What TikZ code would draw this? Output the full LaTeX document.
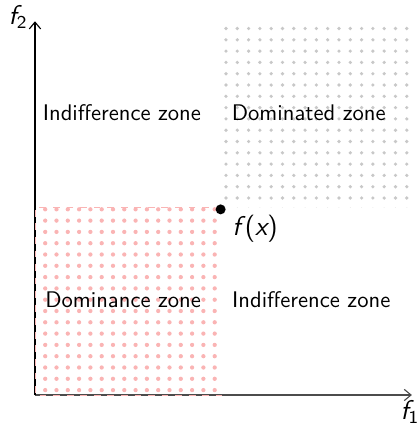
\documentclass[tikz,border=0pt]{standalone}
\usepackage{amsmath}
\usepackage{xcolor}
\usepackage{tikz}
\usetikzlibrary{arrows.meta,patterns.meta}

\definecolor{domcolor}{RGB}{250,180,180}
\definecolor{subcolor}{RGB}{200,200,200}

\newcommand{\sv}[1]{{\slshape #1}}

\tikzset{
  axis/.style={->,>={Straight Barb[length=3pt,width=5pt]},line width=0.5pt},
  zone/.style={font=\sffamily},
  lbl/.style={font=\sffamily\large},
  dominance/.style={pattern={Dots[distance=5pt,radius=0.95pt]},pattern color=domcolor},
  dominated/.style={pattern={Dots[distance=5pt,radius=0.8pt]},pattern color=subcolor},
}

\begin{document}
\begin{tikzpicture}[x=0.972cm,y=0.972cm]
\useasboundingbox (-0.56,-0.464) rectangle (6.11,6.32);
% zones
\fill[dominated] (3,3) rectangle (6,6);
\fill[dominance] (0,0) rectangle (3,3);
%
\coordinate (o) at (0,0);
\coordinate (xend) at (6.03,0);
\coordinate (yend) at (0,5.98);
\draw[axis,black!70] (o) -- (xend);
\draw[axis] (o) -- (yend);
\draw[domcolor,dashed] (3,3) -- (0,3) -- (0,0) -- (3,0);
%
\node[lbl] (f2) at (-0.27,6.05) {\sv{f}\textsubscript{2}};
\node[lbl] (f1) at (6.0,-0.27) {\sv{f}\textsubscript{1}};
%
\fill (2.97,2.97) circle (0.08) coordinate (p);
\node[lbl] (fx) at (3.52,2.66) {\sv{f}\,(\sv{x})};
%
\node[zone] (indiff1) at (1.39,4.51) {Indifference zone};
\node[zone] (dominated) at (4.38,4.51) {Dominated zone};
\node[zone] (dominance) at (1.41,1.52) {Dominance zone};
\node[zone] (indiff2) at (4.42,1.52) {Indifference zone};
\end{tikzpicture}
\end{document}
